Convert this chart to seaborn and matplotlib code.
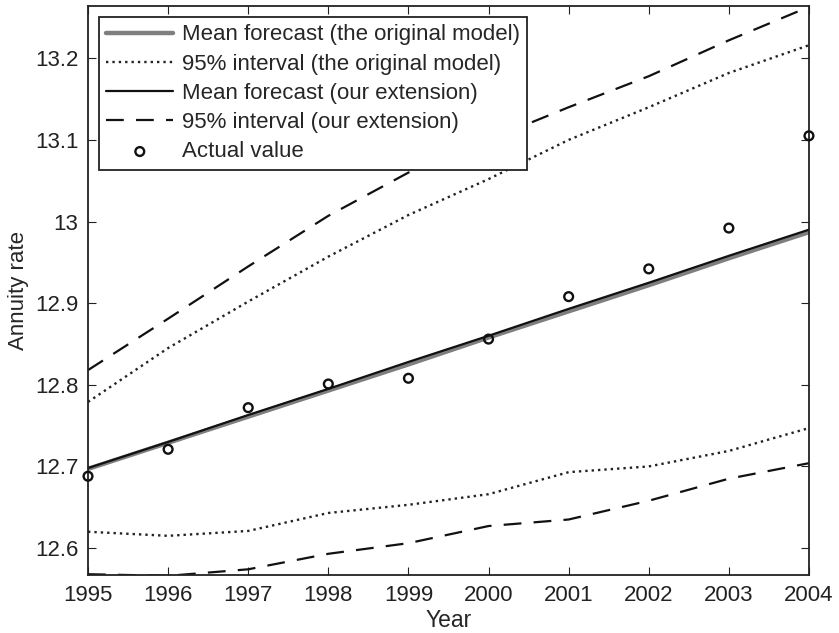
import matplotlib
matplotlib.use("Agg")
import matplotlib.pyplot as plt
import seaborn as sns
import numpy as np

years = [1995, 1996, 1997, 1998, 1999, 2000, 2001, 2002, 2003, 2004]
mean_orig = [12.697, 12.729, 12.761, 12.793, 12.825, 12.858, 12.890, 12.922, 12.955, 12.987]
upper_orig = [12.779, 12.845, 12.902, 12.957, 13.008, 13.052, 13.100, 13.140, 13.182, 13.216]
lower_orig = [12.620, 12.615, 12.621, 12.643, 12.653, 12.666, 12.693, 12.700, 12.719, 12.747]
mean_ext = [12.698, 12.730, 12.763, 12.795, 12.828, 12.860, 12.893, 12.925, 12.958, 12.990]
upper_ext = [12.818, 12.881, 12.945, 13.007, 13.060, 13.100, 13.140, 13.178, 13.222, 13.263]
lower_ext = [12.568, 12.566, 12.574, 12.593, 12.606, 12.627, 12.635, 12.658, 12.685, 12.704]
actual = [12.688, 12.721, 12.772, 12.801, 12.808, 12.856, 12.908, 12.942, 12.992, 13.105]

sns.set_style("ticks")
plt.rcParams['font.family'] = ['Liberation Sans', 'DejaVu Sans']

fig = plt.figure(figsize=(8.39, 6.33), dpi=100)
ax = fig.add_axes([0.1049, 0.0916, 0.8593, 0.8989])

sns.lineplot(x=years, y=mean_orig, ax=ax, color="#7f7f7f", linewidth=3.2,
             label="Mean forecast (the original model)")
sns.lineplot(x=years, y=upper_orig, ax=ax, color="#222222", linewidth=1.7,
             linestyle=(0, (1.0, 1.7)), label="95% interval (the original model)")
sns.lineplot(x=years, y=lower_orig, ax=ax, color="#222222", linewidth=1.7,
             linestyle=(0, (1.0, 1.7)))
sns.lineplot(x=years, y=mean_ext, ax=ax, color="#111111", linewidth=1.6,
             label="Mean forecast (our extension)")
sns.lineplot(x=years, y=upper_ext, ax=ax, color="#111111", linewidth=1.6,
             linestyle=(0, (8, 5.5)), label="95% interval (our extension)")
sns.lineplot(x=years, y=lower_ext, ax=ax, color="#111111", linewidth=1.6,
             linestyle=(0, (8, 5.5)))
sns.scatterplot(x=years, y=actual, ax=ax, marker="o", s=40, facecolor="none",
                edgecolor="#111111", linewidth=1.7, label="Actual value", zorder=5,
                clip_on=False)

ax.set_xlim(1995, 2004)
ax.set_ylim(12.567, 13.264)
ax.set_xticks(years)
ax.set_yticks([12.6, 12.7, 12.8, 12.9, 13.0, 13.1, 13.2])
ax.set_yticklabels(["12.6", "12.7", "12.8", "12.9", "13", "13.1", "13.2"])
ax.tick_params(direction="in", top=True, right=True, length=6, width=0.8,
               labelsize=16, colors="#222222", pad=7)
ax.tick_params(axis="x", pad=7)
for s in ax.spines.values():
    s.set_visible(True)
    s.set_linewidth(1.3)
    s.set_color("#222222")
ax.set_xlabel("Year", fontsize=16.5, labelpad=2)
ax.set_ylabel("Annuity rate", fontsize=16, labelpad=4)

leg = ax.legend(loc="upper left", fontsize=16, frameon=True, fancybox=False,
                framealpha=1, edgecolor="#222222", handlelength=3.0,
                handletextpad=0.4, labelspacing=0.37, borderpad=0.33,
                borderaxespad=0.5)
leg.get_frame().set_linewidth(1.3)

fig.savefig("out.png", dpi=100)
